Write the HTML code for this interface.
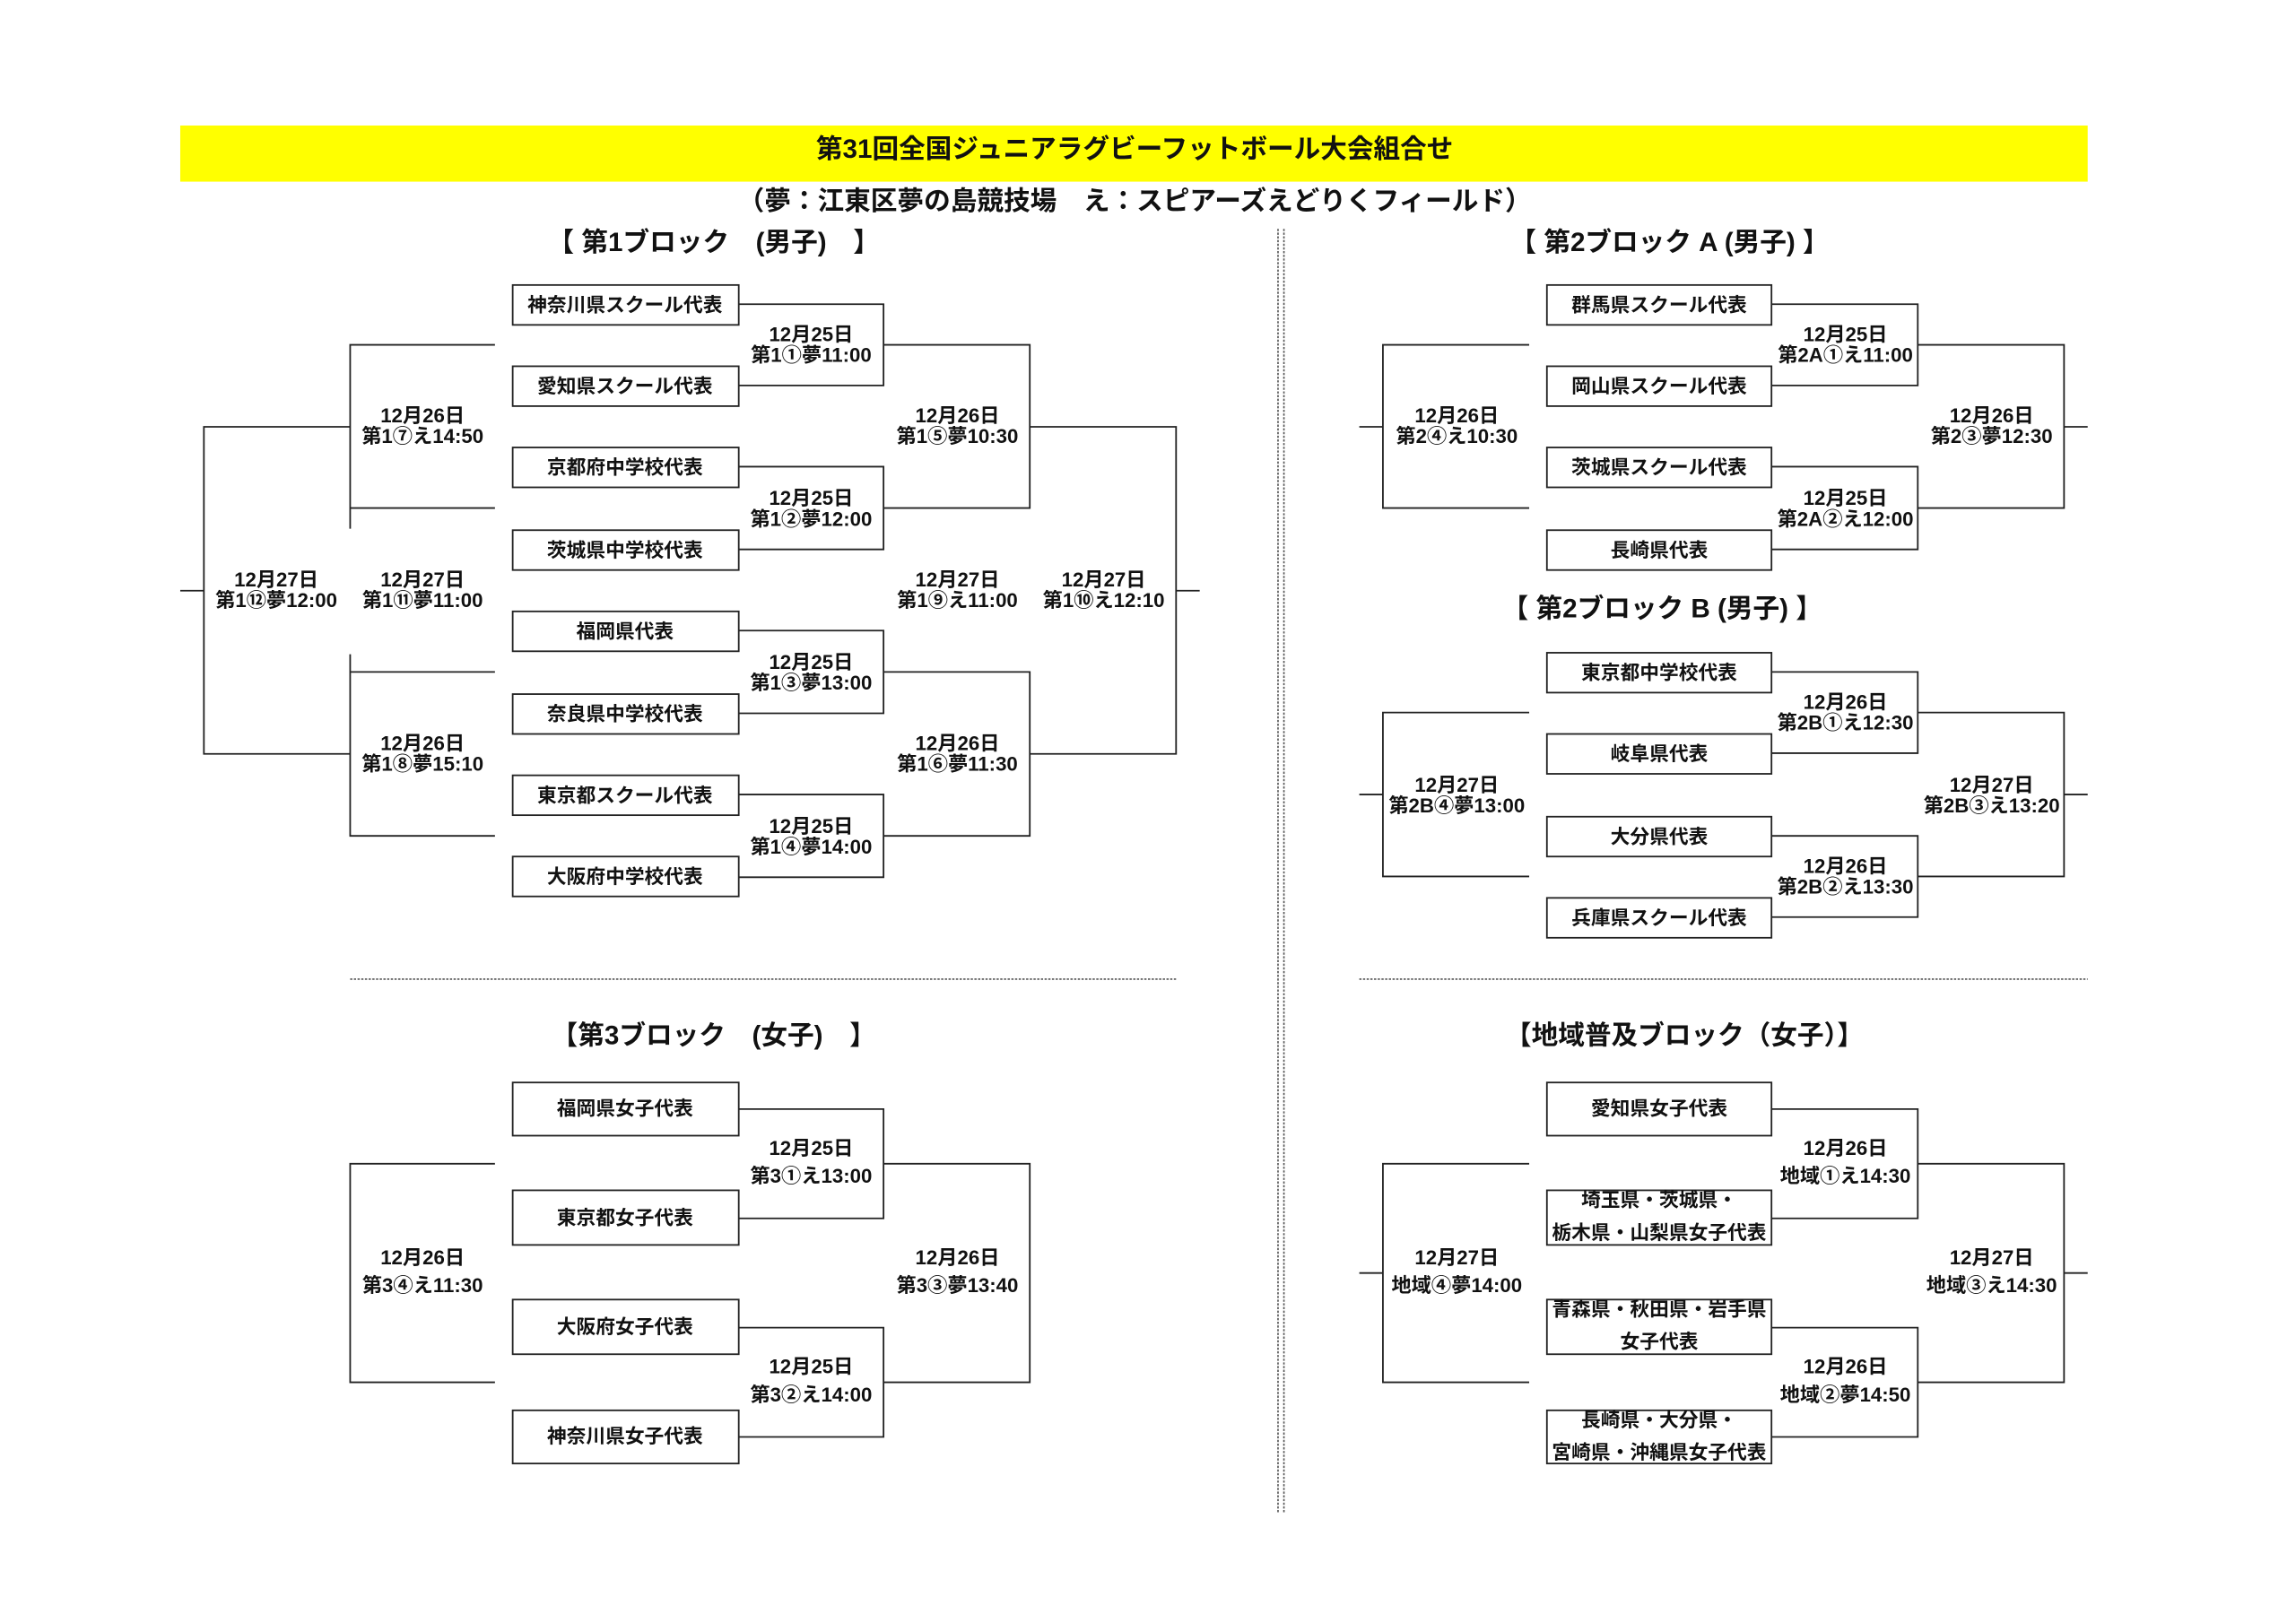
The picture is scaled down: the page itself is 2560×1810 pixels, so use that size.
<!DOCTYPE html>
<html><head><meta charset="utf-8"><style>
html,body{margin:0;padding:0;background:#fff;}
svg{display:block;}
text{font-family:"Liberation Sans","Noto Sans CJK JP",sans-serif;font-weight:bold;fill:#111;text-anchor:middle;}
.l{fill:none;stroke:#222;stroke-width:1.1;}
.b{fill:#fff;stroke:#222;stroke-width:1.1;}
.t{font-size:13.2px;}
.s{font-size:13.5px;}
.h{font-size:18px;}
</style></head><body>
<svg width="2560" height="1810" viewBox="0 0 1554 1099" preserveAspectRatio="none">
<rect x="122" y="85" width="1291" height="38" fill="#ffff00"/>
<text x="768" y="107" class="h">第31回全国ジュニアラグビーフットボール大会組合せ</text>
<text x="768" y="142" class="h">（夢：江東区夢の島競技場　え：スピアーズえどりくフィールド）</text>
<line x1="865" y1="155" x2="865" y2="1025" stroke="#555" stroke-width="1" stroke-dasharray="1.5,1"/>
<line x1="869" y1="155" x2="869" y2="1025" stroke="#555" stroke-width="1" stroke-dasharray="1.5,1"/>
<line x1="237" y1="663" x2="796" y2="663" stroke="#555" stroke-width="1" stroke-dasharray="1.5,1"/>
<line x1="920" y1="663" x2="1413" y2="663" stroke="#555" stroke-width="1" stroke-dasharray="1.5,1"/>

<!-- Block 1 -->
<text x="483" y="170" class="h">【 第1ブロック　(男子)　】</text>
<path class="l" d="M500 206H598V261H500M500 316H598V372H500M500 427H598V483H500M500 538H598V594H500
M598 233.5H697V344H598M598 455H697V566H598M697 289H796V510.5H697M796 400H812
M335 233.5H237V358M237 443V566H335M237 344H335M237 455H335M237 289H138V510.5H237M122 400H138"/>
<rect class="b" x="347" y="193" width="153" height="27"/><text class="t" x="423" y="211">神奈川県スクール代表</text>
<rect class="b" x="347" y="248" width="153" height="27"/><text class="t" x="423" y="266">愛知県スクール代表</text>
<rect class="b" x="347" y="303" width="153" height="27"/><text class="t" x="423" y="321">京都府中学校代表</text>
<rect class="b" x="347" y="359" width="153" height="27"/><text class="t" x="423" y="377">茨城県中学校代表</text>
<rect class="b" x="347" y="414" width="153" height="27"/><text class="t" x="423" y="432">福岡県代表</text>
<rect class="b" x="347" y="470" width="153" height="27"/><text class="t" x="423" y="488">奈良県中学校代表</text>
<rect class="b" x="347" y="525" width="153" height="27"/><text class="t" x="423" y="543">東京都スクール代表</text>
<rect class="b" x="347" y="580" width="153" height="27"/><text class="t" x="423" y="598">大阪府中学校代表</text>
<text class="s" x="549" y="231">12月25日</text><text class="s" x="549" y="245">第1①夢11:00</text>
<text class="s" x="549" y="342">12月25日</text><text class="s" x="549" y="356">第1②夢12:00</text>
<text class="s" x="549" y="453">12月25日</text><text class="s" x="549" y="467">第1③夢13:00</text>
<text class="s" x="549" y="564">12月25日</text><text class="s" x="549" y="578">第1④夢14:00</text>
<text class="s" x="648" y="286">12月26日</text><text class="s" x="648" y="300">第1⑤夢10:30</text>
<text class="s" x="648" y="508">12月26日</text><text class="s" x="648" y="522">第1⑥夢11:30</text>
<text class="s" x="648" y="397">12月27日</text><text class="s" x="648" y="411">第1⑨え11:00</text>
<text class="s" x="747" y="397">12月27日</text><text class="s" x="747" y="411">第1⑩え12:10</text>
<text class="s" x="286" y="286">12月26日</text><text class="s" x="286" y="300">第1⑦え14:50</text>
<text class="s" x="286" y="508">12月26日</text><text class="s" x="286" y="522">第1⑧夢15:10</text>
<text class="s" x="286" y="397">12月27日</text><text class="s" x="286" y="411">第1⑪夢11:00</text>
<text class="s" x="187" y="397">12月27日</text><text class="s" x="187" y="411">第1⑫夢12:00</text>

<!-- Block 2A -->
<text x="1130" y="170" class="h">【 第2ブロック A (男子) 】</text>
<path class="l" d="M1199 206H1298V261H1199M1199 316H1298V372H1199M1298 233.5H1397V344H1298M1397 289H1413
M1035 233.5H936V344H1035M920 289H936"/>
<rect class="b" x="1047" y="193" width="152" height="27"/><text class="t" x="1123" y="211">群馬県スクール代表</text>
<rect class="b" x="1047" y="248" width="152" height="27"/><text class="t" x="1123" y="266">岡山県スクール代表</text>
<rect class="b" x="1047" y="303" width="152" height="27"/><text class="t" x="1123" y="321">茨城県スクール代表</text>
<rect class="b" x="1047" y="359" width="152" height="27"/><text class="t" x="1123" y="377">長崎県代表</text>
<text class="s" x="1249" y="231">12月25日</text><text class="s" x="1249" y="245">第2A①え11:00</text>
<text class="s" x="1249" y="342">12月25日</text><text class="s" x="1249" y="356">第2A②え12:00</text>
<text class="s" x="1348" y="286">12月26日</text><text class="s" x="1348" y="300">第2③夢12:30</text>
<text class="s" x="986" y="286">12月26日</text><text class="s" x="986" y="300">第2④え10:30</text>

<!-- Block 2B -->
<text x="1125" y="418" class="h">【 第2ブロック B (男子) 】</text>
<path class="l" d="M1199 455H1298V510H1199M1199 566H1298V621H1199M1298 482.5H1397V593.5H1298M1397 538H1413
M1035 482.5H936V593.5H1035M920 538H936"/>
<rect class="b" x="1047" y="442" width="152" height="27"/><text class="t" x="1123" y="460">東京都中学校代表</text>
<rect class="b" x="1047" y="497" width="152" height="27"/><text class="t" x="1123" y="515">岐阜県代表</text>
<rect class="b" x="1047" y="553" width="152" height="27"/><text class="t" x="1123" y="571">大分県代表</text>
<rect class="b" x="1047" y="608" width="152" height="27"/><text class="t" x="1123" y="626">兵庫県スクール代表</text>
<text class="s" x="1249" y="480">12月26日</text><text class="s" x="1249" y="494">第2B①え12:30</text>
<text class="s" x="1249" y="591">12月26日</text><text class="s" x="1249" y="605">第2B②え13:30</text>
<text class="s" x="1348" y="536">12月27日</text><text class="s" x="1348" y="550">第2B③え13:20</text>
<text class="s" x="986" y="536">12月27日</text><text class="s" x="986" y="550">第2B④夢13:00</text>

<!-- Block 3 -->
<text x="483" y="707" class="h">【第3ブロック　(女子)　】</text>
<path class="l" d="M500 751H598V825H500M500 899H598V973H500M598 788H697V936H598M335 788H237V936H335"/>
<rect class="b" x="347" y="733" width="153" height="36"/><text class="t" x="423" y="755">福岡県女子代表</text>
<rect class="b" x="347" y="806" width="153" height="37"/><text class="t" x="423" y="829">東京都女子代表</text>
<rect class="b" x="347" y="880" width="153" height="37"/><text class="t" x="423" y="903">大阪府女子代表</text>
<rect class="b" x="347" y="955" width="153" height="36"/><text class="t" x="423" y="977">神奈川県女子代表</text>
<text class="s" x="549" y="782">12月25日</text><text class="s" x="549" y="801">第3①え13:00</text>
<text class="s" x="549" y="930">12月25日</text><text class="s" x="549" y="949">第3②え14:00</text>
<text class="s" x="648" y="856">12月26日</text><text class="s" x="648" y="875">第3③夢13:40</text>
<text class="s" x="286" y="856">12月26日</text><text class="s" x="286" y="875">第3④え11:30</text>

<!-- Regional -->
<text x="1140" y="707" class="h">【地域普及ブロック（女子）】</text>
<path class="l" d="M1199 751H1298V825H1199M1199 899H1298V973H1199M1298 788H1397V936H1298M1397 862H1413
M1035 788H936V936H1035M920 862H936"/>
<rect class="b" x="1047" y="733" width="152" height="36"/><text class="t" x="1123" y="755">愛知県女子代表</text>
<rect class="b" x="1047" y="806" width="152" height="37"/><text class="t" x="1123" y="817">埼玉県・茨城県・</text><text class="t" x="1123" y="839">栃木県・山梨県女子代表</text>
<rect class="b" x="1047" y="880" width="152" height="37"/><text class="t" x="1123" y="891">青森県・秋田県・岩手県</text><text class="t" x="1123" y="913">女子代表</text>
<rect class="b" x="1047" y="955" width="152" height="36"/><text class="t" x="1123" y="966">長崎県・大分県・</text><text class="t" x="1123" y="988">宮崎県・沖縄県女子代表</text>
<text class="s" x="1249" y="782">12月26日</text><text class="s" x="1249" y="801">地域①え14:30</text>
<text class="s" x="1249" y="930">12月26日</text><text class="s" x="1249" y="949">地域②夢14:50</text>
<text class="s" x="1348" y="856">12月27日</text><text class="s" x="1348" y="875">地域③え14:30</text>
<text class="s" x="986" y="856">12月27日</text><text class="s" x="986" y="875">地域④夢14:00</text>
</svg>
</body></html>
